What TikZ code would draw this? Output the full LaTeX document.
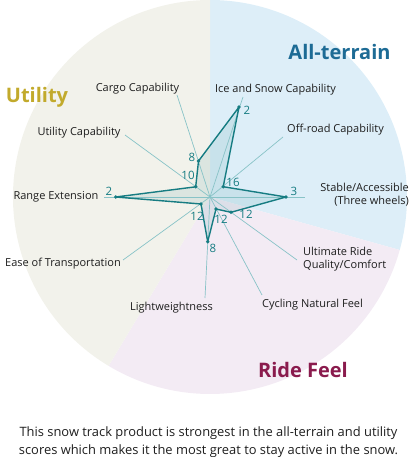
\documentclass[tikz,border=0pt]{standalone}
\usepackage{fontspec}
\setmainfont{Open Sans}
\definecolor{bgblue}{HTML}{DDEEF8}
\definecolor{bgpink}{HTML}{F3EBF4}
\definecolor{bgbeige}{HTML}{F2F2EB}
\definecolor{tealdk}{HTML}{167C82}
\definecolor{teallt}{HTML}{88C3C7}
\definecolor{txtblue}{HTML}{1D6B95}
\definecolor{txtgold}{HTML}{C2AA2C}
\definecolor{txtred}{HTML}{8A1B4D}
\definecolor{txtdark}{HTML}{1E1E1E}
\tikzset{
  axisline/.style={draw=teallt, line width=0.7pt},
  axlabel/.style={text=txtdark, font=\fontsize{11}{13}\selectfont, inner sep=0pt},
  vallabel/.style={text=tealdk, font=\fontsize{11.5}{13}\selectfont, inner sep=0pt},
  grouptitle/.style={font=\bfseries\fontsize{20}{24}\selectfont, inner sep=0pt},
  datapt/.style={fill=tealdk, circle, inner sep=0pt, minimum size=3.8pt},
}
\begin{document}
\begin{tikzpicture}[x=1pt,y=-1pt]
\useasboundingbox (0,0) rectangle (416,457);
\coordinate (O) at (210,197);
% sectors (angles flipped because y points down)
\fill[bgblue] (O) -- ++(-90:197) arc[start angle=-90, end angle=15.6, radius=197] -- cycle;
\fill[bgpink] (O) -- ++(15.6:197) arc[start angle=15.6, end angle=121, radius=197] -- cycle;
\fill[bgbeige] (O) -- ++(121:197) arc[start angle=121, end angle=270, radius=197] -- cycle;
% axis end coordinates
\coordinate (ecargo) at (177,95);
\coordinate (eice) at (243,97);
\coordinate (eoff) at (283,137);
\coordinate (estable) at (305,197);
\coordinate (eult) at (297,260);
\coordinate (ecyc) at (262,295);
\coordinate (elight) at (205,298);
\coordinate (eease) at (123,260);
\coordinate (erange) at (104,197);
\coordinate (eutil) at (125,135);
% data points
\coordinate (pcargo) at (198.5,161);
\coordinate (pice) at (239,107);
\coordinate (poff) at (223.2,186.7);
\coordinate (pstable) at (286,197);
\coordinate (pult) at (231,212.3);
\coordinate (pcyc) at (216,209);
\coordinate (plight) at (207.7,241.7);
\coordinate (pease) at (201,204);
\coordinate (prange) at (115.7,197);
\coordinate (putil) at (195.7,186.8);
% polygon fill
\fill[tealdk, fill opacity=0.10] (pcargo) -- (pice) -- (poff) -- (pstable) -- (pult) -- (pcyc) -- (plight) -- (pease) -- (prange) -- (putil) -- cycle;
% axis lines
\foreach \n in {cargo,ice,off,stable,ult,cyc,light,ease,range,util}
  \draw[axisline] (O) -- (e\n);
% polygon outline
\draw[tealdk, line width=1.4pt, line join=round] (pcargo) -- (pice) -- (poff) -- (pstable) -- (pult) -- (pcyc) -- (plight) -- (pease) -- (prange) -- (putil) -- cycle;
\foreach \n in {cargo,ice,off,stable,ult,cyc,light,ease,range,util}
  \node[datapt] (d\n) at (p\n) {};
% axis labels
\node[axlabel] (lcargo) at (137.5,89) {Cargo Capability};
\node[axlabel] (lice) at (275.5,90) {Ice and Snow Capability};
\node[axlabel] (loff) at (335.5,130) {Off-road Capability};
\node[axlabel] (lutil) at (79,133) {Utility Capability};
\node[axlabel] (lrange) at (56,196.5) {Range Extension};
\node[axlabel, align=right, anchor=east] (lstable) at (409,195) {Stable/Accessible\\(Three wheels)};
\node[axlabel, align=left, anchor=west] (lult) at (303,259) {Ultimate Ride\\Quality/Comfort};
\node[axlabel] (lcyc) at (312.5,305) {Cycling Natural Feel};
\node[axlabel] (llight) at (171.5,308) {Lightweightness};
\node[axlabel] (lease) at (63,264) {Ease of Transportation};
% value labels
\node[vallabel] (vice) at (247,110) {2};
\node[vallabel] (vcargo) at (192,157) {8};
\node[vallabel] (vutil) at (188,175) {10};
\node[vallabel] (voff) at (233,182) {16};
\node[vallabel] (vstable) at (294,191) {3};
\node[vallabel] (vrange) at (109,191) {2};
\node[vallabel] (vease) at (197,216) {12};
\node[vallabel] (vcyc) at (221,219) {12};
\node[vallabel] (vult) at (246,214) {12};
\node[vallabel] (vlight) at (213,248) {8};
% group titles
\node[grouptitle, text=txtblue] (tall) at (339.5,52) {All-terrain};
\node[grouptitle, text=txtgold] (tutil) at (37,97) {Utility};
\node[grouptitle, text=txtred] (tride) at (303,370) {Ride Feel};
% caption
\node[text=txtdark, align=center, font=\fontsize{12.9}{18}\selectfont, inner sep=0pt] (cap) at (208.5,442)
  {This snow track product is strongest in the all-terrain and utility\\scores which makes it the most great to stay active in the snow.};
\end{tikzpicture}
\end{document}
